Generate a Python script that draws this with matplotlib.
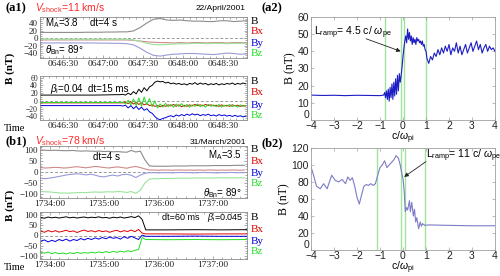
import numpy as np
import matplotlib.pyplot as plt
from matplotlib.ticker import AutoMinorLocator

plt.rcParams['font.family'] = ['Liberation Serif', 'DejaVu Serif']
plt.rcParams['mathtext.fontset'] = 'custom'
plt.rcParams['mathtext.rm'] = 'Liberation Sans'
plt.rcParams['mathtext.it'] = 'Liberation Sans:italic'

# ---- (a1) 22/April/2001, seconds after 06:46:00 ----
t_a1_top = np.arange(13, 169, 5)
B_a1_top = [15, 15, 15, 15, 15, 15, 15, 15.5, 15.5, 15.5, 16, 16, 16.5, 16.5, 19, 28,
            40, 50, 52, 48, 47, 48, 46, 45, 45, 44, 44, 46, 46, 44, 45, 46]
Bx_a1_top = [-5, -5, -5, -5, -5, -5, -5, -5, -5, -5, -5, -5, -5, -5, -6, -8,
             -10, -11, -12, -12, -13, -12, -13, -12, -12, -13, -12, -12, -13, -12, -12, -13]
By_a1_top = [-13, -13, -13, -13, -13, -13, -13, -13, -13, -13.5, -13.5, -14, -14, -15, -18, -27,
             -38, -46, -48, -45, -43, -42, -41, -41, -42, -43, -44, -42, -40, -41, -43, -42]
Bz_a1_top = [-3, -3, -3, -3, -3, -3, -3, -3, -3, -3, -3, -3, -3, -3, -5, -9,
             -14, -17, -18, -17, -16, -15, -15, -14, -14, -15, -14, -14, -15, -14, -14, -14]

t_a1_bot = np.array([13, 23, 33, 43, 53, 63, 69, 73] + list(range(75, 168, 2)))
B_a1_bot = [15, 15, 15, 15, 15, 15.5, 16, 16,
            17, 15, 20, 16, 24, 18, 30, 22, 34, 26, 36, 40, 48, 51, 49, 50, 46, 48, 44, 46,
            43, 45, 42, 44, 41, 45, 43, 47, 42, 46, 43, 45, 41, 44, 42, 45, 41, 44, 42, 45,
            43, 46, 42, 45, 43, 46, 44]
Bx_a1_bot = [-5, -5, -5, -5, -5, -5, -5, -5,
             -5, -3, -7, -2, -8, -4, -9, -5, -10, -7, -12, -10, -14, -12, -15, -11, -14, -10, -13, -9,
             -14, -10, -15, -11, -14, -10, -13, -9, -12, -10, -13, -9, -12, -10, -13, -11, -14, -10,
             -13, -11, -14, -10, -13, -11, -14, -12, -13]
By_a1_bot = [-12, -12, -12, -12, -12, -12, -12, -12,
             -13, -11, -18, -12, -20, -14, -22, -16, -24, -20, -28, -32, -40, -46, -48, -45, -43, -40,
             -38, -41, -36, -39, -35, -38, -34, -37, -33, -36, -34, -38, -35, -37, -34, -38, -36, -39,
             -35, -38, -36, -39, -37, -40, -37, -40, -38, -41, -39]
Bz_a1_bot = [-4, -4, -4, -4, -4, -4, -4, -4,
             -3, -8, 2, -10, 5, -12, 8, -14, 10, -10, 6, -15, 0, -18, -8, -16, -6, -15, -9, -16,
             -8, -14, -7, -15, -9, -16, -10, -14, -8, -15, -10, -16, -9, -14, -10, -15, -9, -16,
             -11, -14, -9, -15, -11, -16, -10, -14, -12]

# ---- (b1) 31/March/2001, seconds after 17:34:00 ----
t_b1_top = np.arange(-10, 216, 5)
B_b1_top = [99, 98, 97, 98, 97, 96, 96, 97, 95, 94, 95, 94, 93, 94, 92, 93, 91, 92, 90, 89,
            97, 90, 94, 55, 28, 26, 26, 26, 26, 27, 27, 27, 27, 28, 28, 28, 28, 28, 29, 29,
            29, 29, 29, 30, 30, 30]
Bx_b1_top = [20, 18, 19, 21, 20, 18, 19, 22, 24, 21, 19, 22, 25, 23, 20, 18, 21, 23, 20, 17,
             22, 25, 20, 14, 9, 9, 8, 9, 9, 8, 9, 9, 8, 9, 8, 9, 8, 9, 9, 8,
             9, 8, 9, 9, 8, 9]
By_b1_top = [-28, -30, -27, -24, -20, -16, -12, -10, -8, -10, -13, -10, -14, -20, -22, -17, -14, -18, -12, -10,
             -15, -25, -14, -6, -3, -3, -4, -3, -3, -4, -3, -2, -3, -3, -4, -3, -2, -3, -3, -4,
             -3, -3, -2, -3, -3, -3]
Bz_b1_top = [-88, -89, -90, -92, -94, -95, -95, -94, -93, -92, -93, -91, -90, -91, -90, -89, -90, -88, -89, -92,
             -88, -96, -82, -50, -32, -30, -30, -29, -29, -29, -28, -28, -28, -28, -27, -27, -27, -27, -27, -26,
             -26, -26, -26, -26, -26, -26]

t_b1_bot = np.array(list(range(-10, 103, 4)) + [106, 130, 160, 190, 218])
B_b1_bot = [90, 86, 92, 88, 91, 87, 90, 93, 88, 91, 87, 90, 92, 88, 91, 89, 93, 88, 90, 86,
            91, 88, 92, 87, 90, 94, 89, 98, 80, 28, 28, 29, 28, 29]
Bx_b1_bot = [22, 16, 25, 18, 24, 17, 21, 26, 19, 23, 15, 22, 27, 20, 24, 18, 25, 19, 23, 16,
             22, 26, 18, 24, 20, 27, 19, 30, 12, 8, 8, 7, 8, 8]
By_b1_bot = [-28, -22, -32, -24, -30, -20, -26, -18, -28, -20, -25, -15, -22, -14, -20, -12, -18, -10, -16, -8,
             -14, -10, -18, -6, -14, -4, -12, -20, 2, -4, -4, -3, -4, -4]
Bz_b1_bot = [-84, -88, -82, -90, -85, -91, -87, -92, -86, -90, -84, -89, -85, -88, -83, -87, -82, -86, -80, -85,
             -79, -84, -78, -82, -76, -80, -74, -70, -10, -20, -21, -20, -21, -20]

# ---- (a2) B versus c/omega_pi ----
x_a2 = np.concatenate([[-4.0, -3.5, -3.0, -2.5, -2.0, -1.5, -1.0, -0.84],
                       np.arange(-0.80, -0.119, 0.04),
                       [-0.08, -0.04, 0.0, 0.04, 0.08],
                       np.arange(0.12, 1.001, 0.04),
                       np.arange(1.04, 4.001, 0.08)])
B_a2 = [14.5, 14.3, 14.4, 14.2, 14.4, 14.3, 14.2, 14.5,
        16, 13, 17, 12, 18, 11, 19, 13, 21, 12, 22, 14, 24, 15, 26, 17, 27, 22,
        26, 31, 37, 42, 46,
        49, 45, 53, 47, 51, 46, 49, 44, 48, 45, 47, 44, 48, 46, 47, 45, 46, 44, 46, 43, 44, 41, 40,
        36, 33, 37, 35, 39, 37, 41, 38, 42, 39, 43, 40, 44, 38, 42, 40, 45, 39, 43, 38, 41, 44, 39,
        42, 45, 40, 43, 46, 41, 44, 39, 42, 44, 40, 43, 41, 42, 40]
green_a2 = [-0.8, -0.1, 0.05, 1.0]

# ---- (b2) ----
x_b2 = [-4.0, -3.9, -3.76, -3.6, -3.45, -3.3, -3.1, -2.95, -2.8, -2.65, -2.5, -2.4, -2.3, -2.2, -2.1,
        -2.0, -1.9, -1.8, -1.7, -1.6, -1.5, -1.4, -1.3, -1.2, -1.1, -1.0, -0.9, -0.8, -0.7, -0.6,
        -0.5, -0.4, -0.3, -0.2, -0.12, -0.05, 0.0, 0.05, 0.1, 0.15, 0.2, 0.28, 0.32, 0.38, 0.45,
        0.5, 0.55, 0.6, 0.68, 0.75, 0.8, 0.85, 0.95, 1.1, 2.0, 3.0, 4.0]
B_b2 = [98, 89, 75, 72, 78, 72, 88, 82, 80, 83, 78, 86, 82, 85, 75,
        62, 54, 65, 75, 77, 76, 78, 76, 78, 88, 97, 100, 105, 97, 100,
        103, 106, 111, 108, 100, 90, 84, 70, 45, 50, 47, 58, 45, 56, 40,
        48, 33, 38, 25, 33, 28, 31, 29, 29.5, 29, 28.5, 28.5]
green_b2 = [-1.15, -0.1, 0.08, 0.95]

W, H = 500, 276
fig = plt.figure(figsize=(5, 2.76), dpi=100)


def fx(px):
    return px / W


def fy(py):
    return 1 - py / H


def panel(l, t, r, b):
    return fig.add_axes([fx(l), fy(b), fx(r) - fx(l), fy(t) - fy(b)])


def put(px, py, s, **kw):
    kw.setdefault('va', 'center')
    kw.setdefault('fontsize', 7)
    kw.setdefault('family', 'Liberation Sans')
    fig.text(fx(px), fy(py), s, **kw)


def left_panel(box, t, series, colors, xlim, ylim, yticks, xticks, xlabels, lw, fs=6.5):
    ax = panel(*box)
    ax.axhline(0, color='#9a9a9a', lw=0.7, ls=(0, (3, 2)))
    for y, c in zip(series, colors):
        ax.plot(t, y, color=c, lw=lw)
    ax.set_xlim(xlim)
    ax.set_ylim(ylim)
    ax.set_yticks(yticks)
    ax.set_xticks(xticks)
    ax.set_xticklabels(xlabels)
    ax.yaxis.set_minor_locator(AutoMinorLocator(4))
    ax.xaxis.set_minor_locator(AutoMinorLocator(6))
    for s in ax.spines.values():
        s.set_color('#8a8a8a')
        s.set_linewidth(0.6)
    ax.tick_params(which='both', direction='in', colors='#8a8a8a', labelcolor='#222222',
                   labelsize=fs, pad=1.5, top=True, right=True, width=0.5)
    ax.tick_params(axis='x', labelsize=6.8)
    ax.tick_params(which='major', length=2.5)
    ax.tick_params(which='minor', length=1.3)
    return ax


pale = ['#8c8c8c', '#d08a8a', '#9a9ad8', '#9ae39a']
vivid = ['#000000', '#e00000', '#0000dd', '#22dd22']

a1_lab = ['0646:30', '0647:00', '0647:30', '0648:00', '0648:30']
left_panel((40, 17, 247, 58), t_a1_top, [B_a1_top, Bx_a1_top, By_a1_top, Bz_a1_top], pale,
           (13, 168), (-53, 56), [40, 20, 0, -20, -40], [30, 60, 90, 120, 150], a1_lab, 0.8)
left_panel((40, 76, 247, 120), t_a1_bot, [B_a1_bot, Bx_a1_bot, By_a1_bot, Bz_a1_bot], vivid,
           (13, 168), (-49, 64), [60, 40, 20, 0, -20, -40], [30, 60, 90, 120, 150], a1_lab, 0.7,
           fs=5.5)

b1_lab = ['1734:00', '1735:00', '1736:00', '1737:00']
left_panel((40, 146, 247, 198), t_b1_top, [B_b1_top, Bx_b1_top, By_b1_top, Bz_b1_top], pale,
           (-11, 218), (-117, 117), [100, 50, 0, -50, -100], [0, 60, 120, 180], b1_lab, 0.8)
left_panel((40, 212, 247, 259), t_b1_bot, [B_b1_bot, Bx_b1_bot, By_b1_bot, Bz_b1_bot], vivid,
           (-11, 218), (-117, 117), [100, 50, 0, -50, -100], [0, 60, 120, 180], b1_lab, 0.7)


def right_panel(box, x, y, color, greens, ylim, yticks):
    ax = panel(*box)
    for g in greens:
        ax.axvline(g, color='#9fe59f', lw=1.0, zorder=1)
    ax.plot(x, y, color=color, lw=0.8, zorder=2)
    ax.set_xlim(-4, 4)
    ax.set_ylim(ylim)
    ax.set_xticks(range(-4, 5))
    ax.set_yticks(yticks)
    for s in ax.spines.values():
        s.set_color('#a0a0a0')
        s.set_linewidth(0.6)
    ax.tick_params(direction='in', length=2.5, width=0.5, colors='#a0a0a0', labelcolor='#222222',
                   labelsize=7.5, top=True, right=True)
    ax.tick_params(axis='x', pad=0.5)
    ax.tick_params(axis='y', pad=1.5)
    for lab in ax.get_xticklabels() + ax.get_yticklabels():
        lab.set_family('Liberation Sans')
    ax.get_yticklabels()[0].set_va('bottom')
    ax.set_ylabel('B (nT)', fontsize=8.5, labelpad=1)
    ax.set_xlabel(r'c/$\omega_{\rm pi}$', fontsize=7.5, family='Liberation Sans', labelpad=-1)
    return ax


ax2 = right_panel((311, 17, 495, 120), x_a2, B_a2, '#1d1dc4', green_a2, (0, 60), range(0, 61, 10))
ax2.text(-3.85, 51, r'L$_{\rm ramp}$= 4.5 c/ $\omega_{\rm pe}$', fontsize=7.5,
         family='Liberation Sans', va='center')
ax2.annotate('', xy=(-0.1, 40), xytext=(-1.6, 47.3),
             arrowprops=dict(arrowstyle='-|>', color='#222222', lw=0.6, mutation_scale=6,
                             shrinkA=0, shrinkB=0))

ax3 = right_panel((311, 148, 495, 250), x_b2, B_b2, '#7c7cc8', green_b2, (0, 120), range(0, 121, 20))
ax3.text(0.98, 111, r'L$_{\rm ramp}$= 11 c/ $\omega_{\rm pe}$', fontsize=7.5,
         family='Liberation Sans', va='center')
ax3.annotate('', xy=(0.05, 86), xytext=(1.0, 104),
             arrowprops=dict(arrowstyle='-|>', color='#222222', lw=0.6, mutation_scale=6,
                             shrinkA=0, shrinkB=0))

# headers
put(5, 8, '(a1)', family='Liberation Serif', fontweight='bold', fontsize=9)
put(35, 8, r'$\mathit{V}_{\rm shock}$=11 km/s', color='#ff2a2a', fontsize=7.5)
put(246, 9, '22/April/2001', fontsize=6, ha='right')
put(5, 141, '(b1)', family='Liberation Serif', fontweight='bold', fontsize=9)
put(35, 141, r'$\mathit{V}_{\rm shock}$=78 km/s', color='#ff2a2a', fontsize=7.5)
put(246, 143, '31/March/2001', fontsize=6, ha='right')
put(262, 8, '(a2)', family='Liberation Serif', fontweight='bold', fontsize=9)
put(262, 143, '(b2)', family='Liberation Serif', fontweight='bold', fontsize=9)

# in-panel notes
put(45, 23, r'M$_{\rm A}$=3.8')
put(90, 23, 'dt=4 s')
put(45, 50, r'$\theta_{\rm Bn}$= 89°')
put(50, 89, r'$\beta_{\rm i}$=0.04')
put(88, 89, 'dt=15 ms')
put(93, 157, 'dt=4 s')
put(242, 155, r'M$_{\rm A}$=3.5', ha='right')
put(242, 193, r'$\theta_{\rm Bn}$= 89°', ha='right')
put(162, 218, 'dt=60 ms', fontsize=6.5)
put(243, 218, r'$\beta_{\rm i}$=0.045', ha='right', fontsize=6.5)

# component labels
for ys in ([21, 32, 43, 53], [82, 93, 105, 116], [150, 162, 173, 184], [218, 230, 241, 252]):
    for yy, name, c in zip(ys, ['B', 'Bx', 'By', 'Bz'], vivid):
        put(251, yy, name, family='Liberation Serif', fontsize=8, color=c)

for yy in (128, 267):
    put(4, yy, 'Time', family='Liberation Serif', fontsize=7.5)
for yy in (68, 205):
    put(10, yy, 'B (nT)', family='Liberation Serif', fontsize=8, fontweight='bold',
        rotation=90, ha='center')

fig.savefig('out.png', dpi=100)
